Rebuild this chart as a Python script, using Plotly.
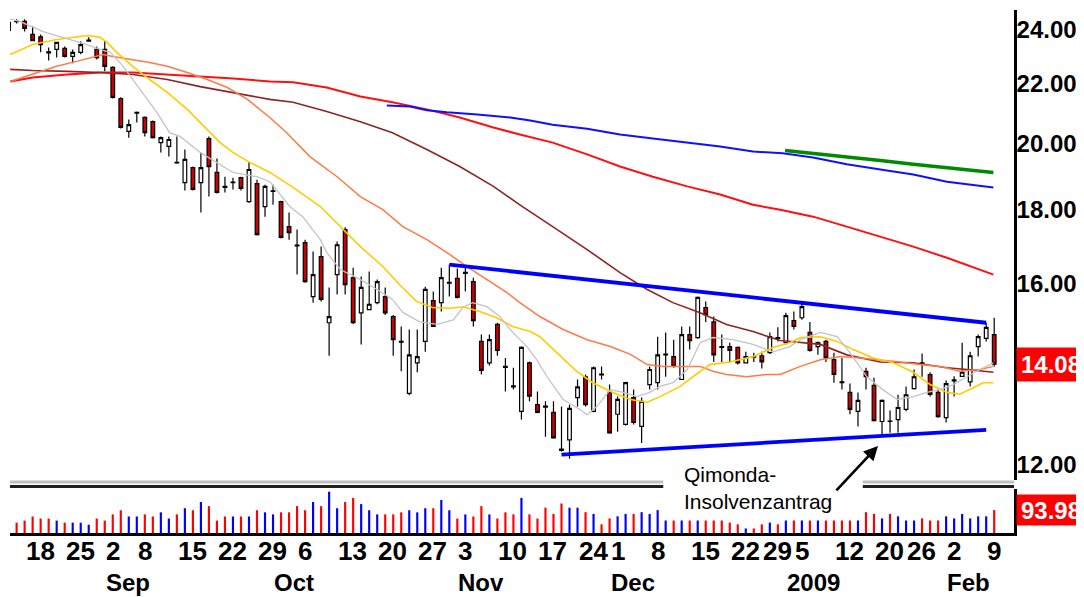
import math
import pandas as pd
import plotly.graph_objects as go

# ---------------- data ----------------
holidays = ["2008-09-01", "2008-11-27", "2008-12-25", "2009-01-01", "2009-01-19"]
dates = [d.strftime("%Y-%m-%d") for d in pd.bdate_range("2008-08-14", "2009-02-10")
         if d.strftime("%Y-%m-%d") not in holidays]
idx = list(range(len(dates)))
pos_of = {d: i for i, d in enumerate(dates)}

opens = [23.96, 24.31, 24.31, 23.81, 23.72, 23.16, 23.25, 23.29, 22.99, 23.14,
         23.56, 23.25, 23.25, 22.59, 21.50, 20.40, 21.00, 20.86, 20.72, 20.04,
         19.92, 19.42, 18.80, 19.26, 18.80, 20.17, 19.11, 18.69, 18.80, 18.95,
         18.24, 18.77, 18.10, 18.54, 18.24, 17.53, 17.02, 17.09, 15.68, 16.71,
         15.04, 16.24, 17.45, 16.16, 15.28, 15.36, 15.53, 15.68, 15.19, 14.60,
         13.44, 14.11, 14.60, 15.58, 15.53, 16.02, 16.14, 16.27, 16.06, 14.60,
         14.11, 15.00, 14.03, 13.60, 13.06, 14.11, 13.20, 13.17, 13.04, 12.30,
         12.48, 13.35, 13.80, 13.06, 13.86, 13.46, 13.00, 12.79, 13.35, 12.75,
         13.63, 13.67, 14.29, 14.25, 13.74, 14.76, 14.69, 15.41, 15.06, 14.48,
         14.48, 14.46, 14.11, 14.25, 14.27, 14.34, 14.69, 14.57, 15.09, 15.16,
         14.81, 14.48, 14.60, 14.18, 13.69, 13.46, 13.06, 13.92, 13.61, 12.85,
         12.86, 12.89, 13.10, 13.54, 14.11, 13.85, 13.46, 12.93, 13.71, 13.81,
         13.69, 14.48, 14.67, 14.76]
highs = [24.31, 24.39, 24.39, 24.12, 23.81, 23.32, 23.52, 23.36, 23.25, 23.55,
         23.70, 23.36, 23.55, 22.63, 21.54, 20.79, 21.06, 20.89, 20.76, 20.24,
         20.24, 20.24, 19.82, 19.29, 19.73, 20.24, 19.54, 18.98, 18.95, 18.98,
         19.42, 18.89, 18.74, 18.74, 18.27, 17.93, 17.45, 17.17, 16.85, 16.98,
         15.91, 17.12, 17.51, 16.42, 16.19, 16.32, 16.11, 15.91, 15.23, 14.95,
         14.88, 14.88, 15.93, 15.81, 16.42, 16.50, 16.40, 16.45, 16.16, 14.76,
         14.76, 15.04, 14.22, 14.00, 14.48, 14.14, 13.48, 13.27, 13.27, 13.16,
         13.20, 13.74, 13.85, 14.03, 14.03, 13.63, 13.37, 13.69, 13.52, 13.35,
         14.03, 14.71, 14.81, 14.64, 14.95, 14.95, 15.68, 15.56, 15.19, 14.76,
         14.57, 14.48, 14.36, 14.34, 14.36, 14.81, 14.93, 15.28, 15.31, 15.51,
         15.06, 14.60, 14.64, 14.34, 14.22, 13.65, 13.46, 14.00, 13.78, 13.31,
         13.08, 13.41, 13.59, 13.96, 14.32, 13.90, 13.52, 13.72, 13.81, 14.57,
         14.36, 14.76, 15.04, 15.16]
lows = [23.92, 24.23, 23.92, 23.55, 23.14, 22.84, 22.95, 22.95, 22.74, 23.07,
        23.54, 22.88, 22.45, 21.50, 20.50, 20.20, 20.69, 20.24, 20.17, 19.73,
        19.60, 19.38, 18.57, 18.57, 17.93, 18.39, 18.48, 18.51, 18.60, 18.57,
        18.21, 17.28, 17.81, 18.15, 17.20, 17.17, 16.24, 16.03, 15.53, 15.56,
        14.27, 15.73, 15.73, 15.01, 14.53, 15.36, 15.49, 15.23, 14.27, 13.92,
        13.40, 13.90, 14.36, 14.95, 15.31, 15.68, 15.63, 15.81, 14.95, 13.85,
        14.05, 14.27, 13.48, 13.52, 12.89, 13.27, 13.02, 12.54, 12.50, 12.25,
        12.11, 13.16, 13.16, 13.04, 13.74, 12.60, 12.64, 12.77, 12.79, 12.42,
        13.52, 13.52, 13.80, 14.00, 13.74, 14.41, 14.66, 15.06, 14.13, 14.13,
        14.11, 14.07, 14.11, 14.13, 13.98, 14.31, 14.60, 14.53, 14.88, 15.11,
        14.36, 14.29, 14.13, 13.67, 13.52, 13.00, 12.75, 13.52, 12.85, 12.54,
        12.62, 12.62, 13.06, 13.52, 13.80, 13.37, 12.93, 12.83, 13.37, 13.81,
        13.59, 14.25, 14.60, 14.03]
closes = [24.27, 24.30, 24.04, 23.58, 23.43, 23.12, 23.51, 22.99, 23.14, 23.43,
          23.60, 22.95, 22.63, 21.54, 20.53, 20.62, 21.03, 20.36, 20.20, 20.20,
          20.14, 19.40, 19.51, 18.60, 19.26, 19.29, 18.51, 18.66, 18.82, 18.63,
          19.20, 17.31, 18.69, 18.56, 17.23, 17.36, 17.00, 16.06, 16.24, 15.61,
          15.19, 17.03, 15.98, 15.04, 15.91, 15.49, 16.06, 15.28, 14.64, 14.58,
          14.29, 14.25, 15.86, 14.95, 16.16, 16.04, 15.66, 16.30, 15.09, 13.94,
          14.64, 14.39, 14.01, 13.58, 14.46, 13.38, 13.04, 13.15, 12.52, 12.27,
          13.12, 13.58, 13.20, 14.00, 13.84, 12.62, 13.31, 13.67, 12.83, 13.27,
          13.96, 14.29, 14.31, 14.03, 14.76, 14.62, 15.66, 15.23, 14.29, 14.46,
          14.39, 14.11, 14.25, 14.24, 14.13, 14.71, 14.67, 15.21, 14.95, 15.43,
          14.39, 14.57, 14.22, 13.85, 13.67, 13.10, 13.29, 13.80, 12.87, 13.29,
          12.85, 13.14, 13.41, 13.80, 14.09, 13.42, 12.95, 13.65, 13.73, 13.90,
          14.27, 14.71, 14.93, 14.08]
volumes = [45.0,
           42.4, 50.9, 67.8, 59.3, 59.3, 50.9, 42.4, 42.4, 42.4, 33.9,
           59.3, 50.9, 76.3, 93.3, 67.8, 67.8, 76.3, 67.8, 84.8, 59.3,
           76.3, 101.7, 93.3, 127.2, 110.2, 50.9, 67.8, 67.8, 67.8, 67.8,
           93.3, 84.8, 76.3, 84.8, 84.8, 110.2, 93.3, 127.2, 110.2, 169.6,
           101.7, 127.2, 144.1, 118.7, 93.3, 76.3, 76.3, 76.3, 84.8, 93.3,
           84.8, 101.7, 101.7, 135.6, 93.3, 59.3, 76.3, 67.8, 110.2, 76.3,
           59.3, 84.8, 76.3, 144.1, 76.3, 59.3,
           104.0, 78.3, 121.0, 104.0, 104.0, 85.4, 78.3, 35.6, 59.8, 68.4,
           78.3, 78.3, 85.4, 78.3, 94.0, 51.3, 51.3, 51.3, 51.3, 51.3,
           51.3, 51.3, 51.3, 42.7, 35.6, 18.5, 18.5, 35.6, 42.7, 35.6,
           51.3, 51.3, 51.3, 51.3, 51.3, 51.3, 51.3, 51.3, 51.3, 51.3,
           85.4, 78.3, 59.8, 78.3, 68.4, 51.3, 51.3, 59.8, 51.3, 51.3,
           68.4, 59.8, 78.3, 59.8, 68.4, 68.4, 93.98]

# moving averages (position in trading days, value)
gray_pos = [0.2, 1.4, 4.3, 7.7, 9.8, 11.4, 12.7, 14.3, 16.4, 18.5, 20.1, 21.4, 23.9, 26.0, 28.0,
            31.0, 32.6, 35.1, 36.7, 38.9, 39.7, 41.4, 43.9, 46.0, 47.9, 49.2, 51.3, 53.5,
            55.5, 56.7, 57.9, 59.7, 61.3, 62.9, 64.7, 65.9, 67.2, 69.2, 71.3, 72.2, 73.4,
            75.1, 76.7, 78.4, 80.0, 81.3, 82.9, 84.7, 86.3, 87.9, 90.4, 92.9, 95.4, 97.5,
            98.8, 101.3, 103.4, 105.0, 107.1, 109.1, 110.9, 112.9, 114.6, 116.2, 117.9,
            119.6, 121.2, 122.9]
gray_val = [24.40, 24.31, 23.92, 23.62, 23.43, 23.25, 23.14, 22.63, 21.81, 21.03, 20.36, 20.24, 19.73,
            19.42, 19.11, 18.98, 18.83, 18.10, 17.81, 17.17, 16.82, 16.37, 16.11, 15.86,
            15.61, 15.29, 15.06, 15.00, 15.11, 15.41, 15.53, 15.43, 15.19, 14.81, 14.48,
            14.18, 13.80, 13.31, 13.10, 12.99, 13.16, 13.52, 13.46, 13.37, 13.46, 13.59,
            13.67, 13.96, 14.57, 14.69, 14.64, 14.53, 14.36, 14.48, 14.64, 14.81, 14.71,
            14.34, 13.80, 13.52, 13.31, 13.37, 13.46, 13.52, 13.63, 13.80, 13.96, 14.11]
yellow_pos = [0.2, 3.0, 6.0, 8.5, 9.9, 11.4, 12.3, 13.5, 15.5, 17.6, 19.8, 22.3, 24.8, 26.4,
              28.0, 30.1, 32.6, 35.5, 38.9, 41.4, 43.9, 46.7, 48.8, 50.9, 52.9, 55.1, 56.7,
              58.8, 60.9, 62.9, 65.1, 66.3, 68.4, 70.9, 72.9, 75.4, 77.6, 79.7, 81.3, 83.8,
              85.4, 87.5, 90.0, 92.9, 95.4, 97.5, 98.8, 101.3, 103.4, 105.4, 107.9, 110.4,
              112.9, 115.0, 117.1, 118.7, 120.4, 121.6, 122.9]
yellow_val = [23.06, 23.43, 23.62, 23.73, 23.77, 23.70, 23.51, 23.14, 22.63, 22.16, 21.71,
              21.13, 20.46, 20.04, 19.73, 19.42, 19.11, 18.66, 18.10, 17.53, 16.98, 16.45,
              15.98, 15.56, 15.41, 15.39, 15.43, 15.31, 15.16, 14.95, 14.83, 14.71, 14.34,
              13.92, 13.67, 13.46, 13.31, 13.25, 13.37, 13.59, 13.80, 14.07, 14.13, 14.25,
              14.46, 14.57, 14.69, 14.71, 14.60, 14.41, 14.22, 14.11, 13.90, 13.63, 13.46,
              13.42, 13.56, 13.67, 13.67]
orange_pos = [0.2, 3.0, 6.0, 8.5, 10.2, 11.8, 13.0, 15.5, 17.6, 19.8, 22.3, 24.8, 27.3, 29.8,
              31.4, 32.6, 34.7, 37.6, 41.0, 43.9, 46.7, 49.2, 52.2, 54.7, 57.2, 59.7, 62.2,
              63.8, 66.3, 69.2, 72.2, 75.1, 77.6, 79.7, 81.7, 83.8, 86.3, 87.9, 89.6, 92.1,
              94.6, 96.3, 98.8, 101.3, 103.8, 106.3, 108.8, 111.2, 113.7, 116.2, 118.7,
              121.2, 122.9]
orange_val = [22.09, 22.34, 22.63, 22.81, 22.95, 23.06, 22.99, 22.88, 22.77, 22.63, 22.41,
              22.16, 21.88, 21.47, 21.13, 20.86, 20.36, 19.60, 18.98, 18.39, 18.01, 17.53,
              17.17, 16.82, 16.45, 16.11, 15.78, 15.53, 15.19, 14.88, 14.64, 14.48, 14.30,
              14.07, 14.03, 14.03, 14.03, 13.92, 13.85, 13.80, 13.85, 13.85, 14.03, 14.18,
              14.25, 14.22, 14.18, 14.13, 14.07, 14.03, 13.92, 13.96, 14.03]
brown_pos = [0.2, 3.0, 7.3, 11.4, 15.5, 19.8, 23.9, 28.0, 32.6, 35.5, 39.7, 43.9, 47.9, 52.2,
             56.3, 60.5, 63.8, 67.9, 72.2, 76.3, 79.7, 82.9, 86.3, 89.6, 92.9, 96.3, 98.8,
             101.3, 104.6, 108.8, 112.9, 117.1, 119.6, 122.9]
brown_val = [22.52, 22.48, 22.45, 22.41, 22.34, 22.16, 21.91, 21.71, 21.47, 21.37, 21.06,
             20.72, 20.36, 19.82, 19.29, 18.69, 18.15, 17.53, 16.90, 16.29, 15.86, 15.53,
             15.28, 15.00, 14.83, 14.62, 14.57, 14.53, 14.29, 14.13, 14.11, 14.00, 13.96,
             13.90]
red_pos = [0.2, 3.0, 7.3, 11.4, 15.5, 19.8, 23.9, 28.0, 32.6, 35.5, 39.7, 43.9, 47.9, 52.2,
           56.3, 60.5, 63.8, 67.9, 72.2, 76.3, 80.4, 84.7, 88.8, 92.9, 96.3, 100.4, 104.6,
           108.8, 112.9, 117.1, 121.2, 122.9]
red_val = [22.09, 22.23, 22.34, 22.41, 22.41, 22.34, 22.27, 22.20, 22.09, 22.06, 21.88,
           21.57, 21.37, 21.13, 20.86, 20.53, 20.30, 20.04, 19.67, 19.29, 18.98, 18.69,
           18.45, 18.15, 18.01, 17.81, 17.53, 17.25, 16.98, 16.68, 16.37, 16.24]
blue_pos = [47.2, 50.1, 52.2, 54.7, 58.5, 62.6, 65.1, 67.9, 72.2, 76.3, 80.4, 84.7, 88.8,
            92.9, 96.6, 100.4, 104.6, 108.8, 112.9, 117.1, 122.9]
blue_val = [21.26, 21.23, 21.10, 21.03, 20.96, 20.86, 20.76, 20.62, 20.49, 20.30, 20.17,
            20.04, 19.92, 19.76, 19.70, 19.57, 19.36, 19.20, 19.05, 18.83, 18.66]
green_pos = [96.9, 100.4, 104.6, 108.8, 112.9, 117.1, 122.9]
green_val = [19.79, 19.70, 19.60, 19.48, 19.36, 19.26, 19.11]

# trend lines
upper_pos = [55, 122]
upper_val = [16.50, 15.04]
lower_pos = [69, 122]
lower_val = [12.19, 12.68]

# axis labels
price_ticks = [12, 16, 18, 20, 22, 24]
week_dates = ["2008-08-18", "2008-08-25", "2008-09-02", "2008-09-08", "2008-09-15",
              "2008-09-22", "2008-09-29", "2008-10-06", "2008-10-13", "2008-10-20",
              "2008-10-27", "2008-11-03", "2008-11-10", "2008-11-17", "2008-11-24",
              "2008-12-01", "2008-12-08", "2008-12-15", "2008-12-22", "2008-12-29",
              "2009-01-05", "2009-01-12", "2009-01-20", "2009-01-26", "2009-02-02",
              "2009-02-09"]
week_labels = ["18", "25", "2", "8", "15", "22", "29", "6", "13", "20", "27", "3", "10",
               "17", "24", "1", "8", "15", "22", "29", "5", "12", "20", "26", "2", "9"]
month_dates = ["2008-09-02", "2008-10-01", "2008-11-03", "2008-12-01", "2009-01-02", "2009-02-02"]
month_labels = ["Sep", "Oct", "Nov", "Dec", "2009", "Feb"]
last_price = 14.08
last_volume = 93.98
event_date = "2009-01-21"
event_price = 12.36
event_text = "Qimonda-<br>Insolvenzantrag"

# ---------------- figure ----------------
# the page body has an 8px margin; the figure is sized so that it fills the window
OFF = 8
PAGE_W, PAGE_H = 1084, 597
W, H = PAGE_W - OFF, PAGE_H - OFF
PLOT_L, PLOT_R, PLOT_T, PLOT_B = 10, 1014, 10, 533      # page pixels
ML, MT = PLOT_L - OFF, PLOT_T - OFF
MR = W - (PLOT_R - OFF)
MB = H - (PLOT_B - OFF)
PH = PLOT_B - PLOT_T


def pf(ypage):  # page pixel row -> paper fraction
    return (PLOT_B - ypage) / PH


FONT = "Liberation Sans, Arial, sans-serif"
NARROW = "Liberation Sans Narrow, Arial Narrow, Liberation Sans, Arial, sans-serif"

fig = go.Figure()

fig.add_trace(go.Candlestick(
    x=idx, open=opens, high=highs, low=lows, close=closes,
    increasing=dict(line=dict(color="black", width=1.2), fillcolor="white"),
    decreasing=dict(line=dict(color="black", width=1.2), fillcolor="#cc0000"),
    whiskerwidth=0, xaxis="x", yaxis="y", showlegend=False, hoverinfo="skip"))

for px_, py_, col, wd in [(red_pos, red_val, "#ff1010", 2.0),
                          (brown_pos, brown_val, "#8e2424", 1.6),
                          (orange_pos, orange_val, "#ff7a45", 1.5),
                          (yellow_pos, yellow_val, "#ffcc00", 1.6),
                          (gray_pos, gray_val, "#c4c4c4", 1.3),
                          (blue_pos, blue_val, "#1010ff", 2.0),
                          (green_pos, green_val, "#008a00", 3.5)]:
    fig.add_trace(go.Scatter(x=px_, y=py_, mode="lines", line=dict(color=col, width=wd),
                             xaxis="x", yaxis="y", showlegend=False, hoverinfo="skip"))

for px_, py_ in [(upper_pos, upper_val), (lower_pos, lower_val)]:
    fig.add_trace(go.Scatter(x=px_, y=py_, mode="lines", line=dict(color="#0000ff", width=3.8),
                             xaxis="x", yaxis="y", showlegend=False, hoverinfo="skip"))

vol_colors = ["#0000ff" if c >= o else "#ff0000" for o, c in zip(opens, closes)]
fig.add_trace(go.Bar(x=idx, y=volumes, marker=dict(color=vol_colors, line=dict(width=0)),
                     width=0.27, xaxis="x2", yaxis="y2", showlegend=False, hoverinfo="skip"))

PX_PER_DAY = 8.013
x0 = (PLOT_L - 8.6) / PX_PER_DAY
x1 = x0 + (PLOT_R - PLOT_L) / PX_PER_DAY

ylog0 = math.log10(math.exp((2024.0 - 480) / 627.6))
ylog1 = math.log10(math.exp((2024.0 - 10) / 627.6))

annotations = []
for d, t in zip(week_dates, week_labels):
    annotations.append(dict(x=pos_of[d], y=pf(551), xref="x2", yref="paper", text=t,
                            showarrow=False, xanchor="left", yanchor="middle", xshift=-1,
                            font=dict(family=NARROW, size=26, color="black", weight="bold")))
for d, t in zip(month_dates, month_labels):
    annotations.append(dict(x=pos_of[d], y=pf(582), xref="x2", yref="paper", text=t,
                            showarrow=False, xanchor="left", yanchor="middle", xshift=-1,
                            font=dict(family=FONT, size=24, color="black", weight="bold")))

annotations.append(dict(x=1, xref="paper", y=math.log10(last_price), yref="y",
                        text=f"{last_price:.2f}", showarrow=False, xanchor="left", xshift=2,
                        yanchor="middle", bgcolor="#ff0000", width=66, height=31,
                        font=dict(family=FONT, size=24, color="white", weight="bold")))
annotations.append(dict(x=1, xref="paper", y=last_volume, yref="y2",
                        text=f"{last_volume:.2f}", showarrow=False, xanchor="left", xshift=2,
                        yanchor="middle", bgcolor="#ff0000", width=66, height=28,
                        font=dict(family=FONT, size=24, color="white", weight="bold")))
annotations.append(dict(x=84.3, xref="x", y=pf(488), yref="paper", text=event_text,
                        showarrow=False, xanchor="left", yanchor="middle", align="left",
                        xshift=-2, font=dict(family=FONT, size=21, color="black")))
annotations.append(dict(x=pos_of[event_date] - 0.5, xref="x", y=math.log10(event_price), yref="y",
                        text="", showarrow=True, ax=-43, ay=46, arrowhead=2, arrowsize=1.1,
                        arrowwidth=2.6, arrowcolor="black"))

shapes = [
    dict(type="rect", xref="paper", yref="paper", x0=0, x1=1, y0=pf(483.5), y1=pf(480.5),
         fillcolor="#c0c0c0", line=dict(width=0), layer="above"),
    dict(type="rect", xref="paper", yref="paper", x0=0, x1=1, y0=pf(488), y1=pf(485),
         fillcolor="#202020", line=dict(width=0), layer="above"),
    dict(type="rect", xref="x", yref="paper", x0=81.7, x1=106.6, y0=pf(513), y1=pf(466),
         fillcolor="white", line=dict(width=0), layer="above"),
]

fig.update_layout(
    width=W, height=H,
    margin=dict(l=ML, r=MR, t=MT, b=MB, pad=0),
    paper_bgcolor="white", plot_bgcolor="white",
    showlegend=False, boxgap=0.35,
    xaxis=dict(domain=[0, 1], range=[x0, x1], anchor="y", showticklabels=False,
               showgrid=False, zeroline=False, rangeslider=dict(visible=False), ticks=""),
    xaxis2=dict(domain=[0, 1], range=[x0, x1], anchor="y2", matches="x", showticklabels=False,
                showgrid=False, zeroline=False, showline=True, linecolor="black",
                linewidth=2.5, ticks=""),
    yaxis=dict(domain=[pf(480), 1], type="log", range=[ylog0, ylog1], side="right",
               tickvals=price_ticks, ticktext=[f"{v:.2f}" for v in price_ticks],
               ticks="", showgrid=False, zeroline=False, showline=True, linecolor="black",
               linewidth=2.5, ticklabelstandoff=-5,
               tickfont=dict(family=FONT, size=24, color="black", weight="bold")),
    yaxis2=dict(domain=[0, pf(489)], range=[0, 180.6], side="right", showticklabels=False,
                showgrid=False, zeroline=False, showline=True, linecolor="black",
                linewidth=2.5, ticks=""),
    annotations=annotations,
    shapes=shapes,
)

fig.write_html("out.html")
